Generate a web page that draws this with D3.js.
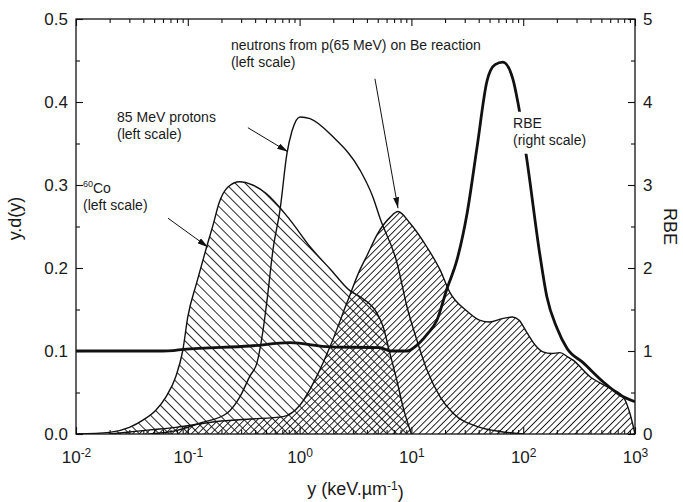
<!DOCTYPE html>
<html>
<head>
<meta charset="utf-8">
<script src="https://cdn.jsdelivr.net/npm/d3@7"></script>
<style>
  body { margin: 0; background: #fff; }
  svg text { font-family: "Liberation Sans", Arial, sans-serif; fill: #1a1a1a; }
</style>
</head>
<body>
<div id="chart"></div>
<script>
// lineal energy y (keV/um) and y.d(y)
const coX = [0.01, 0.02, 0.03, 0.04, 0.052, 0.064, 0.078, 0.09, 0.10, 0.12, 0.145, 0.17, 0.19, 0.23, 0.29, 0.38, 0.5, 0.82, 1.25, 1.9, 2.8, 3.5, 4.9, 5.6, 6.4, 7.4, 8.4, 10];
const coY = [0, 0.002, 0.008, 0.017, 0.029, 0.045, 0.069, 0.10, 0.141, 0.182, 0.222, 0.254, 0.278, 0.298, 0.304, 0.300, 0.29, 0.258, 0.225, 0.198, 0.173, 0.165, 0.146, 0.129, 0.098, 0.065, 0.033, 0];

const protonX = [0.046, 0.078, 0.128, 0.224, 0.293, 0.36, 0.416, 0.471, 0.511, 0.578, 0.668, 0.771, 0.855, 1.01, 1.24, 1.99, 3.47, 4.54, 5.24, 7.44, 9.14, 11.2, 13.8, 18.0, 23.6, 41.1, 62.1, 99.6];
const protonY = [0, 0.004, 0.013, 0.025, 0.045, 0.07, 0.086, 0.125, 0.161, 0.222, 0.27, 0.338, 0.365, 0.382, 0.38, 0.358, 0.318, 0.285, 0.26, 0.206, 0.153, 0.113, 0.077, 0.045, 0.025, 0.008, 0.003, 0];

const neutronX = [0.02, 0.046, 0.078, 0.182, 0.36, 0.711, 1.01, 1.43, 1.87, 2.65, 3.47, 4.01, 4.92, 6.44, 7.59, 9.72, 13.8, 18.0, 22.2, 31.5, 41.1, 50, 65, 80, 92, 108, 130, 150, 180, 213, 250, 279, 396, 562, 782, 900, 1000];
const neutronY = [0, 0.005, 0.008, 0.015, 0.018, 0.021, 0.035, 0.07, 0.105, 0.158, 0.198, 0.215, 0.240, 0.261, 0.268, 0.254, 0.225, 0.198, 0.17, 0.148, 0.137, 0.135, 0.139, 0.141, 0.137, 0.122, 0.106, 0.099, 0.097, 0.098, 0.093, 0.089, 0.069, 0.057, 0.045, 0.025, 0];

// RBE (right scale)
const rbeX = [0.01, 0.06, 0.0738, 0.0906, 0.36, 0.82, 1.87, 5.24, 6.44, 9.14, 11.2, 13.8, 16.9, 20.8, 25.6, 31.5, 38.6, 47.4, 56.0, 65.9, 81.1, 89.8, 108, 141, 163, 200, 247, 343, 518, 735, 1000];
const rbeY = [1.0, 1.0, 1.005, 1.02, 1.06, 1.10, 1.05, 1.04, 1.0, 1.0, 1.07, 1.2, 1.37, 1.75, 2.1, 2.66, 3.45, 4.25, 4.45, 4.48, 4.27, 3.99, 3.30, 2.16, 1.65, 1.28, 1.03, 0.86, 0.63, 0.47, 0.39];

const leftTicks = [0, 0.1, 0.2, 0.3, 0.4, 0.5];
const rightTicks = [0, 1, 2, 3, 4, 5];
const decades = [1e-2, 1e-1, 1e0, 1e1, 1e2, 1e3];

const margin = {top: 19, right: 48, bottom: 68, left: 76};
const outerWidth = 683, outerHeight = 502;
const width = outerWidth - margin.left - margin.right;
const height = outerHeight - margin.top - margin.bottom;

const svg = d3.select("#chart").append("svg")
    .attr("width", outerWidth)
    .attr("height", outerHeight);

const defs = svg.append("defs");

function addHatch(id, spacing, angle) {
  const p = defs.append("pattern")
      .attr("id", id)
      .attr("patternUnits", "userSpaceOnUse")
      .attr("width", spacing)
      .attr("height", spacing)
      .attr("patternTransform", "rotate(" + angle + ")");
  p.append("line")
      .attr("x1", spacing / 2).attr("y1", 0)
      .attr("x2", spacing / 2).attr("y2", spacing)
      .attr("stroke", "#111")
      .attr("stroke-width", 0.9);
}
addHatch("hatchCo", 7, -45);
addHatch("hatchN", 4.6, 45);

defs.append("marker")
    .attr("id", "arrow")
    .attr("viewBox", "0 0 11 6")
    .attr("markerWidth", 11)
    .attr("markerHeight", 6)
    .attr("refX", 11)
    .attr("refY", 3)
    .attr("orient", "auto")
    .attr("markerUnits", "userSpaceOnUse")
  .append("path")
    .attr("d", "M0,0 L11,3 L0,6 Z")
    .attr("fill", "#111");

defs.append("clipPath").attr("id", "plotClip")
  .append("rect").attr("width", width).attr("height", height);

const g = svg.append("g")
    .attr("transform", "translate(" + margin.left + "," + margin.top + ")");

const x = d3.scaleLog().domain([1e-2, 1e3]).range([0, width]);
const yL = d3.scaleLinear().domain([0, 0.5]).range([height, 0]);
const yR = d3.scaleLinear().domain([0, 5]).range([height, 0]);

const zip = (xs, ys) => xs.map((v, i) => [v, ys[i]]);
const coData = zip(coX, coY);
const protonData = zip(protonX, protonY);
const neutronData = zip(neutronX, neutronY);
const rbeData = zip(rbeX, rbeY);

const areaL = d3.area().curve(d3.curveMonotoneX)
    .x(d => x(d[0])).y0(height).y1(d => yL(d[1]));
const lineL = d3.line().curve(d3.curveMonotoneX)
    .x(d => x(d[0])).y(d => yL(d[1]));
const lineR = d3.line().curve(d3.curveMonotoneX)
    .x(d => x(d[0])).y(d => yR(d[1]));

const plot = g.append("g").attr("clip-path", "url(#plotClip)");

plot.append("path").datum(coData)
    .attr("d", areaL).attr("fill", "url(#hatchCo)");
plot.append("path").datum(neutronData)
    .attr("d", areaL).attr("fill", "url(#hatchN)");

[coData, neutronData, protonData].forEach(function(dat) {
  plot.append("path").datum(dat)
      .attr("d", lineL)
      .attr("fill", "none")
      .attr("stroke", "#111")
      .attr("stroke-width", 1.4);
});

plot.append("path").datum(rbeData)
    .attr("d", lineR)
    .attr("fill", "none")
    .attr("stroke", "#111")
    .attr("stroke-width", 2.8);

// axes, all ticks pointing inward
const minorX = x.ticks().filter(v => decades.indexOf(v) < 0);

function styleAxis(sel) {
  sel.select(".domain").remove();
  sel.selectAll(".tick line").attr("stroke", "#111").attr("stroke-width", 1.1);
  sel.selectAll("text").attr("font-family", "Liberation Sans, Arial, sans-serif")
      .attr("font-size", 17).attr("fill", "#1a1a1a");
}

const xAxisG = g.append("g").attr("class", "axis axis--x")
    .attr("transform", "translate(0," + height + ")")
    .call(d3.axisBottom(x).tickValues(decades).tickSize(-7).tickPadding(17).tickFormat(""))
    .call(styleAxis);
xAxisG.selectAll(".tick text").each(function(d) {
  const t = d3.select(this);
  t.text(null);
  t.append("tspan").text("10");
  t.append("tspan").attr("dy", "-0.5em").attr("font-size", 12).text(Math.round(Math.log10(d)));
});
g.append("g").attr("transform", "translate(0," + height + ")")
    .call(d3.axisBottom(x).tickValues(minorX).tickSize(-4).tickFormat(""))
    .call(styleAxis);
g.append("g")
    .call(d3.axisTop(x).tickValues(decades).tickSize(-7).tickFormat(""))
    .call(styleAxis);
g.append("g")
    .call(d3.axisTop(x).tickValues(minorX).tickSize(-4).tickFormat(""))
    .call(styleAxis);

g.append("g").attr("class", "axis axis--y")
    .call(d3.axisLeft(yL).tickValues(leftTicks).tickSize(-7).tickPadding(8).tickFormat(d3.format(".1f")))
    .call(styleAxis);
g.append("g")
    .call(d3.axisLeft(yL).tickValues(d3.range(0.05, 0.5, 0.1)).tickSize(-4).tickFormat(""))
    .call(styleAxis);
g.append("g").attr("transform", "translate(" + width + ",0)")
    .call(d3.axisRight(yR).tickValues(rightTicks).tickSize(-7).tickPadding(8).tickFormat(d3.format("d")))
    .call(styleAxis);
g.append("g").attr("transform", "translate(" + width + ",0)")
    .call(d3.axisRight(yR).tickValues(d3.range(0.5, 5, 1)).tickSize(-4).tickFormat(""))
    .call(styleAxis);

g.append("rect")
    .attr("width", width).attr("height", height)
    .attr("fill", "none").attr("stroke", "#111").attr("stroke-width", 1.3);

// axis titles
const xTitle = svg.append("text")
    .attr("x", margin.left + width / 2)
    .attr("y", 495)
    .attr("text-anchor", "middle")
    .attr("font-size", 18);
xTitle.append("tspan").text("y (keV.\u00b5m");
xTitle.append("tspan").attr("dy", "-0.45em").attr("font-size", 12).text("-1");
xTitle.append("tspan").attr("dy", "0.45em").text(")");

svg.append("text")
    .attr("transform", "translate(21," + (margin.top + height / 2 - 8) + ") rotate(-90)")
    .attr("text-anchor", "middle")
    .attr("font-size", 18)
    .text("y.d(y)");

svg.append("text")
    .attr("transform", "translate(664," + (margin.top + height / 2) + ") rotate(90)")
    .attr("text-anchor", "middle")
    .attr("font-size", 18)
    .text("RBE");

// annotations (anchored in data space)
const arrows = [
  {from: [0.0665, 0.260], to: [0.152, 0.225]},
  {from: [0.345, 0.369], to: [0.787, 0.340]},
  {from: [4.72, 0.428], to: [7.59, 0.272]}
];
arrows.forEach(function(a) {
  g.append("line")
      .attr("x1", x(a.from[0])).attr("y1", yL(a.from[1]))
      .attr("x2", x(a.to[0])).attr("y2", yL(a.to[1]))
      .attr("stroke", "#111").attr("stroke-width", 1)
      .attr("marker-end", "url(#arrow)");
});

function note(at, lines, sup) {
  const t = g.append("text")
      .attr("x", x(at[0])).attr("y", yL(at[1]))
      .attr("font-size", 14);
  lines.forEach(function(s, i) {
    const ts = t.append("tspan").attr("x", x(at[0])).attr("dy", i === 0 ? 0 : 17);
    if (i === 0 && sup) {
      ts.append("tspan").attr("font-size", 9).attr("dy", -6).text(sup);
      ts.append("tspan").attr("dy", 6).text(s);
    } else {
      ts.text(s);
    }
  });
  return t;
}

note([0.0233, 0.376], ["85 MeV protons", "(left scale)"]);
note([0.01155, 0.290], ["Co", "(left scale)"], "60");
note([0.243, 0.463], ["neutrons from p(65 MeV) on Be reaction", "(left scale)"]);

// RBE label sits on a white patch that breaks the curve
const rbeAt = [81.1, 3.69];
g.append("rect")
    .attr("x", x(rbeAt[0]) - 2).attr("y", yR(rbeAt[1]) - 16)
    .attr("width", 80).attr("height", 42)
    .attr("fill", "#fff");
note([rbeAt[0], rbeAt[1] / 10], ["RBE", "(right scale)"]);
</script>
</body>
</html>
